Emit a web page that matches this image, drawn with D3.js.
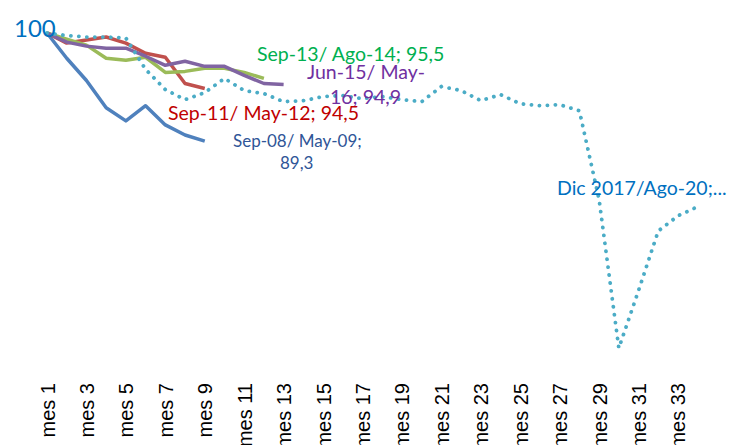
<!DOCTYPE html>
<html>
<head>
<meta charset="utf-8">
<script src="https://cdn.jsdelivr.net/npm/d3@7"></script>
<style>
  body { margin: 0; background: #fff; }
  svg { display: block; }
  .tick-label { font-family: "Liberation Sans", Arial, sans-serif; font-size: 20px; fill: #000; }
  .series-label { font-family: Lato, "Noto Sans", sans-serif; }
</style>
</head>
<body>
<svg id="chart" width="732" height="445"></svg>
<script>
let width = 732;
let height = 445;

// months on the category axis
let months = d3.range(1, 35).map(i => "mes " + i);

// index values (100 = start of each episode)
let sep08 = [100, 97.5, 95.3, 92.6, 91.3, 92.8, 90.9, 89.9, 89.3];
let sep11 = [100, 99.0, 99.3, 99.6, 99.0, 98.0, 97.6, 95.0, 94.5];
let sep13 = [100, 99.4, 98.8, 97.5, 97.3, 97.6, 96.1, 96.2, 96.5, 96.5, 96.1, 95.5];
let jun15 = [100, 99.1, 98.7, 98.5, 98.5, 97.7, 96.8, 97.2, 96.7, 96.7, 95.8, 95.0, 94.9];
let dic17 = [100, 99.75, 99.6, 99.6, 99.5, 96.4, 94.4, 93.4, 94.1, 95.5,
             94.3, 94.0, 93.2, 93.3, 93.7, 93.8, 93.5, 93.7, 93.4, 93.2,
             94.7, 94.3, 93.3, 93.9, 93.0, 92.8, 92.9, 92.3, 83.5, 68.8,
             74.5, 80.4, 81.9, 82.8];

let x = d3.scalePoint().domain(months).range([47, 697.7]);
let y = d3.scaleLinear().domain([66, 100]).range([376.4, 33]);

let svg = d3.select("#chart");

let line = d3.line()
  .x((d, i) => x(months[i]))
  .y(d => y(d));

let series = [
  {values: sep08, color: "#4F81BD", dotted: false},
  {values: sep11, color: "#C0504D", dotted: false},
  {values: sep13, color: "#9BBB59", dotted: false},
  {values: jun15, color: "#8064A2", dotted: false},
  {values: dic17, color: "#4BACC6", dotted: true}
];

svg.selectAll("path.serie")
   .data(series)
   .enter()
   .append("path")
   .attr("class", "serie")
   .attr("d", d => line(d.values))
   .attr("fill", "none")
   .attr("stroke", d => d.color)
   .attr("stroke-width", d => d.dotted ? 3.8 : 3.5)
   .attr("stroke-linejoin", "round")
   .attr("stroke-linecap", d => d.dotted ? "round" : "butt")
   .attr("stroke-dasharray", d => d.dotted ? "0.1,7.9" : null);

// category axis: every other month, rotated
let xAxis = d3.axisBottom(x)
  .tickValues(months.filter((m, i) => i % 2 === 0))
  .tickSize(0);

let gx = svg.append("g").attr("transform", "translate(0,383)").call(xAxis);
gx.select(".domain").remove();
gx.selectAll("text")
  .attr("class", "tick-label")
  .attr("transform", "rotate(-90)")
  .attr("x", 0)
  .attr("y", 0)
  .attr("dy", "0.35em")
  .style("text-anchor", "end")
  .attr("font-size", null)
  .attr("font-family", null);

// data labels
let labels = [
  {lines: ["100"], x: 14, y: 37, color: "#0070C0", size: 24},
  {lines: ["Sep-13/ Ago-14; 95,5"], x: 257, y: 61, color: "#00B050", size: 19.5},
  {lines: ["Jun-15/ May-", "16; 94,9"], x: [307, 330], y: [79, 104], color: "#7030A0", size: 19.5},
  {lines: ["Sep-11/ May-12; 94,5"], x: 168, y: 120, color: "#C00000", size: 19.5},
  {lines: ["Sep-08/ May-09;", "89,3"], x: [233, 280], y: [147, 169], color: "#2F5597", size: 17},
  {lines: ["Dic 2017/Ago-20;..."], x: 557, y: 195, color: "#0070C0", size: 19.5}
];

labels.forEach(function(l){
  l.lines.forEach(function(t, i){
    svg.append("text")
       .attr("class", "series-label")
       .attr("x", Array.isArray(l.x) ? l.x[i] : l.x)
       .attr("y", Array.isArray(l.y) ? l.y[i] : l.y)
       .attr("fill", l.color)
       .style("font-size", l.size + "px")
       .text(t);
  });
});
</script>
</body>
</html>
